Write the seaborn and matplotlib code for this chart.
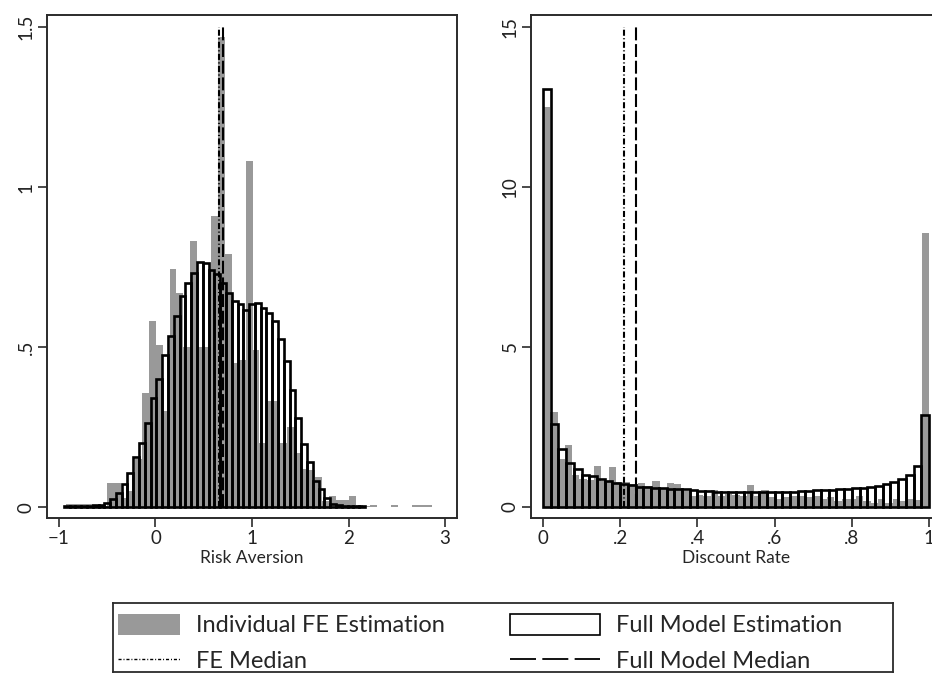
import matplotlib
matplotlib.use("Agg")
import matplotlib.pyplot as plt
import numpy as np
import pandas as pd
import seaborn as sns
from matplotlib.lines import Line2D
from matplotlib.patches import Patch

# ── Data ───────────────────────────────────────────────────────────────────
# Risk aversion: density per bin (bins given by start + width)
RISK_FE_START = -0.93
RISK_FE_WIDTH = 0.0717
RISK_FE = [
    0.01, 0.01, 0.01, 0.01, 0.003, 0.003, 0.075, 0.075, 0.03, 0.05,
    0.15, 0.355, 0.58, 0.505, 0.30, 0.745, 0.67, 0.50, 0.83, 0.50,
    0.50, 0.91, 1.47, 0.79, 0.45, 0.46, 1.08, 0.49, 0.20, 0.33,
    0.33, 0.20, 0.25, 0.17, 0.12, 0.115, 0.095, 0.02, 0.036, 0.023,
    0.023, 0.036, 0.008, 0.003, 0.008, 0.0, 0.0, 0.008, 0.0, 0.0,
    0.008, 0.008, 0.008,
]
RISK_FULL_START = -0.95
RISK_FULL_WIDTH = 0.06
RISK_FULL = [
    0.004, 0.004, 0.003, 0.003, 0.004, 0.006, 0.008, 0.012, 0.025, 0.045,
    0.072, 0.108, 0.156, 0.20, 0.263, 0.34, 0.40, 0.474, 0.535, 0.596,
    0.66, 0.70, 0.73, 0.765, 0.762, 0.74, 0.727, 0.70, 0.67, 0.643,
    0.634, 0.616, 0.635, 0.637, 0.623, 0.605, 0.58, 0.525, 0.455, 0.366,
    0.277, 0.196, 0.14, 0.083, 0.056, 0.029, 0.011, 0.006, 0.004, 0.004,
    0.003, 0.003,
]
RISK_FE_MEDIAN = 0.66
RISK_FULL_MEDIAN = 0.695

# Discount rate
DISC_FE_START = 0.0
DISC_FE_WIDTH = 1 / 53
DISC_FE = [
    12.5, 2.96, 1.5, 1.93, 1.0, 0.86, 0.83, 1.29, 0.8, 1.24,
    0.78, 0.78, 0.72, 0.75, 0.65, 0.80, 0.56, 0.75, 0.72, 0.5,
    0.35, 0.38, 0.35, 0.54, 0.35, 0.4, 0.38, 0.35, 0.69, 0.35,
    0.54, 0.3, 0.24, 0.3, 0.35, 0.35, 0.3, 0.35, 0.24, 0.3,
    0.18, 0.24, 0.26, 0.35, 0.18, 0.13, 0.24, 0.13, 0.26, 0.18,
    0.24, 0.22, 8.55,
]
DISC_FULL_START = 0.0
DISC_FULL_WIDTH = 0.02
DISC_FULL = [
    13.07, 2.58, 1.82, 1.39, 1.18, 1.01, 0.97, 0.86, 0.81, 0.74,
    0.72, 0.70, 0.63, 0.61, 0.59, 0.58, 0.57, 0.56, 0.55, 0.52,
    0.50, 0.49, 0.48, 0.48, 0.48, 0.47, 0.47, 0.47, 0.47, 0.46,
    0.46, 0.47, 0.48, 0.50, 0.51, 0.52, 0.53, 0.54, 0.55, 0.56,
    0.58, 0.60, 0.63, 0.66, 0.73, 0.77, 0.89, 1.01, 1.28, 2.86,
]
DISC_FE_MEDIAN = 0.21
DISC_FULL_MEDIAN = 0.242

RISK_XTICKS = [-1, 0, 1, 2, 3]
RISK_XTICKLABELS = ["\u22121", "0", "1", "2", "3"]
RISK_YTICKS = [0, 0.5, 1, 1.5]
RISK_YTICKLABELS = ["0", ".5", "1", "1.5"]
DISC_XTICKS = [0, 0.2, 0.4, 0.6, 0.8, 1]
DISC_XTICKLABELS = ["0", ".2", ".4", ".6", ".8", "1"]
DISC_YTICKS = [0, 5, 10, 15]
DISC_YTICKLABELS = ["0", "5", "10", "15"]

LABELS = ["Individual FE Estimation", "Full Model Estimation", "FE Median", "Full Model Median"]

# ── Style ──────────────────────────────────────────────────────────────────
sns.set_theme(style="ticks")
plt.rcParams["font.family"] = ["Lato", "DejaVu Sans"]
GRAY = "#999999"
FRAME = "#2b2b2b"
FE_DASH = (0, (2.9, 1.2, 0.5, 1.2))
FULL_DASH = (0, (6.2, 1.8))


def draw_hist(ax, start, width, heights, **kw):
    heights = np.asarray(heights, dtype=float)
    edges = start + width * np.arange(len(heights) + 1)
    df = pd.DataFrame({"x": (edges[:-1] + edges[1:]) / 2, "w": heights})
    # bins as a plain list: seaborn 0.13 compares bins == "auto" when weights are set
    sns.histplot(data=df, x="x", weights="w", bins=edges.tolist(), stat="count", ax=ax, **kw)


def panel(ax, fe, full, medians, xlim, ylim, xticks, xlabels, yticks, ylabels, xlabel):
    draw_hist(ax, *fe, color=GRAY, alpha=1, linewidth=0, edgecolor="none")
    draw_hist(ax, *full, fill=False, color="black", linewidth=1.9)
    top = yticks[-1]
    ax.plot([medians[0]] * 2, [0, top], color="black", lw=1.5, linestyle=FE_DASH)
    ax.plot([medians[1]] * 2, [0, top], color="black", lw=1.5, linestyle=FULL_DASH)
    ax.set_xlim(*xlim)
    ax.set_ylim(*ylim)
    ax.set_xticks(xticks, xlabels)
    ax.set_yticks(yticks)
    ax.set_yticklabels(ylabels, rotation=90, va="center")
    ax.set_xlabel(xlabel, fontsize=12.5, labelpad=2)
    ax.set_ylabel("")
    ax.tick_params(axis="both", direction="out", length=6.5, width=1.2, color=FRAME,
                   labelsize=13.5, pad=2.5, labelcolor="#222222")
    for s in ax.spines.values():
        s.set_visible(True)
        s.set_color(FRAME)
        s.set_linewidth(1.4)


fig = plt.figure(figsize=(9.32, 6.8), dpi=100)
ax1 = fig.add_axes([47 / 932, 1 - 518 / 680, 410 / 932, 503 / 680])
ax2 = fig.add_axes([531 / 932, 1 - 518 / 680, 410 / 932, 503 / 680])

panel(ax1, (RISK_FE_START, RISK_FE_WIDTH, RISK_FE),
      (RISK_FULL_START, RISK_FULL_WIDTH, RISK_FULL),
      (RISK_FE_MEDIAN, RISK_FULL_MEDIAN), (-1.124, 3.124), (-0.034, 1.5375),
      RISK_XTICKS, RISK_XTICKLABELS, RISK_YTICKS, RISK_YTICKLABELS, "Risk Aversion")
panel(ax2, (DISC_FE_START, DISC_FE_WIDTH, DISC_FE),
      (DISC_FULL_START, DISC_FULL_WIDTH, DISC_FULL),
      (DISC_FE_MEDIAN, DISC_FULL_MEDIAN), (-0.031, 1.031), (-0.344, 15.375),
      DISC_XTICKS, DISC_XTICKLABELS, DISC_YTICKS, DISC_YTICKLABELS, "Discount Rate")

# ── Legend box ─────────────────────────────────────────────────────────────
lax = fig.add_axes([113 / 932, 1 - 672 / 680, 780 / 932, 69 / 680])
lax.set_xticks([])
lax.set_yticks([])
for s in lax.spines.values():
    s.set_color(FRAME)
    s.set_linewidth(1.3)

left_handles = [Patch(facecolor=GRAY, edgecolor="none"),
                Line2D([], [], color="black", lw=1.0, linestyle=(0, (2.2, 1.4, 0.7, 1.4)))]
right_handles = [Patch(facecolor="white", edgecolor="black", linewidth=1.2),
                 Line2D([], [], color="black", lw=1.3, linestyle=(0, (14.4, 3.5)))]
leg_kw = dict(frameon=False, fontsize=17, borderpad=0, borderaxespad=0,
              handleheight=0.97, handletextpad=0.68, labelspacing=0.55, loc="upper left")
fig.legend(left_handles, [LABELS[0], LABELS[2]], handlelength=2.63,
           bbox_to_anchor=(118 / 932, 1 - 614 / 680), **leg_kw)
fig.legend(right_handles, [LABELS[1], LABELS[3]], handlelength=3.8,
           bbox_to_anchor=(510 / 932, 1 - 614 / 680), **leg_kw)

fig.savefig("out.png", dpi=100, facecolor="white")
